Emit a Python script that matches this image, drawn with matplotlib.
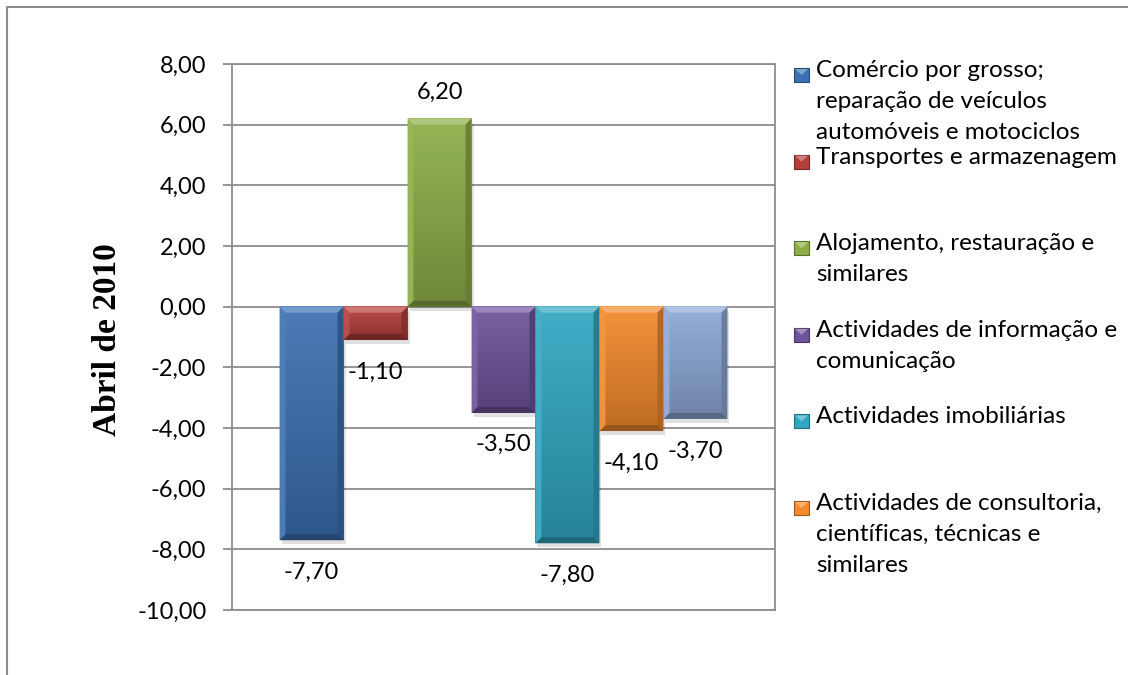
import matplotlib
matplotlib.use('Agg')
import matplotlib.pyplot as plt
import numpy as np
from matplotlib.patches import Polygon, Rectangle
from matplotlib.lines import Line2D
from matplotlib.colors import to_rgb

# ---------------- data ----------------
categories = [
    "Comércio por grosso;\nreparação de veículos\nautomóveis e motociclos",
    "Transportes e armazenagem",
    "Alojamento, restauração e\nsimilares",
    "Actividades de informação e\ncomunicação",
    "Actividades imobiliárias",
    "Actividades de consultoria,\ncientíficas, técnicas e\nsimilares",
    "Actividades administrativas e dos\nserviços de apoio",
]
values = [-7.70, -1.10, 6.20, -3.50, -7.80, -4.10, -3.70]
colors = ['#3C70B2', '#B43E3A', '#8DAE47', '#6F539B', '#30A7C2', '#F38A2B', '#8DA8D6']
yticks = [-10, -8, -6, -4, -2, 0, 2, 4, 6, 8]
ylabel = "Abril de 2010"
legend_visible = 6   # the last legend entry is cut off in the original

plt.rcParams['font.family'] = ['Lato', 'DejaVu Sans']

W, H = 1128, 675
fig = plt.figure(figsize=(W / 100, H / 100), dpi=100)

def fx(px):
    return px / W

def fy(py):
    return 1 - py / H

GRID = '#8c8c8c'
FS = 17

ax = fig.add_axes([fx(232), fy(610), fx(775) - fx(232), fy(64) - fy(610)])
ax.set_xlim(-0.5, 0.5)
ax.set_ylim(-10, 8)

n = len(values)
bw = 0.825 / n
xpos = (np.arange(n) - (n - 1) / 2) * bw

bars = ax.bar(xpos, values, width=bw, color=colors, linewidth=0, zorder=3)

# pixel -> data conversions
ax_w_px = (fx(775) - fx(232)) * W
ax_h_px = (fy(64) - fy(610)) * H
dx_per_px = 1.0 / ax_w_px
dy_per_px = 18.0 / ax_h_px

def mix(c, other, t):
    c = np.array(to_rgb(c)); o = np.array(other)
    return tuple(c * (1 - t) + o * t)

def light(c, t):
    return mix(c, (1, 1, 1), t)

def dark(c, t):
    return mix(c, (0, 0, 0), t)

bev_x = 6 * dx_per_px
bev_y = 6 * dy_per_px
for rect, c in zip(bars.patches, colors):
    x0 = rect.get_x(); w = rect.get_width()
    y0 = rect.get_y(); h = rect.get_height()
    x1 = x0 + w
    top = max(y0, y0 + h); bot = min(y0, y0 + h)
    # shadow
    ax.add_patch(Rectangle((x0 + 2 * dx_per_px, bot - 4 * dy_per_px), w, top - bot,
                           facecolor='#000000', alpha=0.12, linewidth=0, zorder=2.5))
    # gradient face
    grad = np.linspace(0, 1, 64)[:, None]
    ctop = np.array(light(c, 0.08)); cbot = np.array(dark(c, 0.22))
    img = ctop[None, None, :] * (1 - grad[:, :, None]) + cbot[None, None, :] * grad[:, :, None]
    ax.imshow(img, extent=[x0, x1, bot, top], aspect='auto', origin='upper',
              interpolation='bilinear', zorder=3.1)
    # bevels
    ax.add_patch(Polygon([(x0, top), (x1, top), (x1 - bev_x, top - bev_y), (x0 + bev_x, top - bev_y)],
                         closed=True, facecolor=light(c, 0.30), linewidth=0, zorder=3.2))
    ax.add_patch(Polygon([(x0, bot), (x1, bot), (x1 - bev_x, bot + bev_y), (x0 + bev_x, bot + bev_y)],
                         closed=True, facecolor=dark(c, 0.38), linewidth=0, zorder=3.2))
    ax.add_patch(Polygon([(x0, top), (x0 + bev_x, top - bev_y), (x0 + bev_x, bot + bev_y), (x0, bot)],
                         closed=True, facecolor=light(c, 0.10), alpha=0.9, linewidth=0, zorder=3.2))
    ax.add_patch(Polygon([(x1, top), (x1 - bev_x, top - bev_y), (x1 - bev_x, bot + bev_y), (x1, bot)],
                         closed=True, facecolor=dark(c, 0.28), alpha=0.9, linewidth=0, zorder=3.2))

ax.set_xlim(-0.5, 0.5)
ax.set_ylim(-10, 8)

# data labels
for rect, v in zip(bars.patches, values):
    cx = rect.get_x() + rect.get_width() / 2
    off = -23 if v < 0 else 19
    ax.annotate(f"{v:.2f}".replace('.', ','), xy=(cx, v), xytext=(0, off),
                textcoords='offset points', ha='center', va='center', fontsize=FS,
                color='#000000', zorder=5)

# axes styling
ax.set_yticks(yticks)
ax.set_yticklabels([f"{t:.2f}".replace('.', ',') for t in yticks])
ax.set_xticks([])
ax.yaxis.grid(True, color=GRID, linewidth=1.3)
ax.set_axisbelow(True)
for s in ax.spines.values():
    s.set_color(GRID)
    s.set_linewidth(1.3)
ax.tick_params(axis='y', direction='out', length=6.5, width=1.3, color=GRID,
               pad=12, labelsize=FS)

fig.text(fx(108), fy(340), ylabel, rotation=90, family=['Liberation Serif'],
         weight='bold', fontsize=24, ha='center', va='center')

# manual legend (as in the original, the last entry is truncated)
for i in range(legend_visible):
    yc = 75 + i * 86.6
    c = colors[i]
    mk = Rectangle((fx(794), fy(yc + 7)), fx(15), 14 / H, transform=fig.transFigure,
                   facecolor=c, edgecolor=dark(c, 0.35), linewidth=0.8)
    fig.add_artist(mk)
    mk2 = Polygon([(fx(795), fy(yc - 6)), (fx(808), fy(yc - 6)), (fx(801.5), fy(yc))],
                  closed=True, transform=fig.transFigure, facecolor=light(c, 0.35), linewidth=0)
    fig.add_artist(mk2)
    fig.text(fx(816), fy(yc - 15), categories[i], ha='left', va='top', fontsize=17.5,
             linespacing=1.6)

# outer chart border (top and left visible)
fig.add_artist(Line2D([fx(7), fx(7), fx(1128)], [fy(676), fy(7), fy(7)],
                      transform=fig.transFigure, color=GRID, linewidth=1.5))

fig.savefig('out.png', dpi=100)
